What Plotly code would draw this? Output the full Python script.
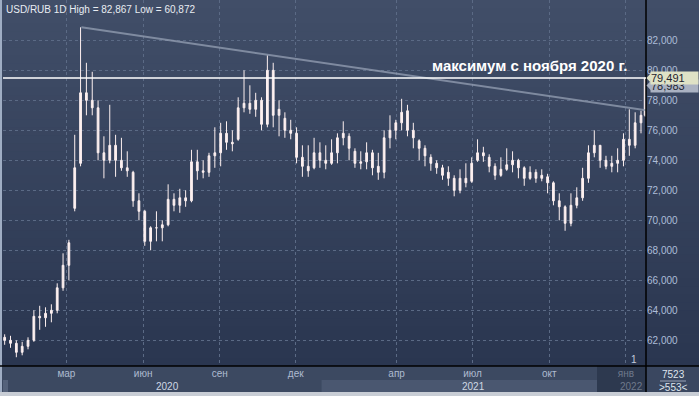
import pandas as pd
import plotly.graph_objects as go

# ---------------- data ----------------
# weekly candles (centred on Wednesdays) + the last daily candle
week_dates = list(pd.date_range("2019-12-18", periods=110, freq="7D").strftime("%Y-%m-%d")) + ["2022-01-24"]

opens = [62.2, 62.0, 61.8, 61.2, 61.6, 62.0, 63.6, 63.5, 63.8, 64.0, 65.5,
         67.0, 70.8, 73.8, 78.5, 78.0, 77.5, 74.5, 74.0, 75.0, 74.0, 73.5,
         73.2, 71.3, 70.6, 68.6, 69.5, 69.5, 69.7, 71.4, 71.0, 71.5, 71.3,
         73.9, 73.3, 73.2, 74.3, 74.5, 75.8, 75.2, 75.4, 77.5, 77.8, 77.4,
         78.0, 76.4, 80.0, 77.0, 76.8, 76.0, 75.8, 74.2, 73.6, 73.5, 74.5,
         74.0, 73.8, 74.5, 75.5, 75.6, 74.6, 73.8, 73.9, 74.5, 73.6, 73.2,
         75.5, 76.0, 76.5, 77.3, 76.0, 75.3, 74.8, 74.2, 73.8, 73.5, 73.2,
         72.8, 72.0, 72.8, 72.6, 74.0, 74.5, 74.2, 73.6, 73.0, 73.4, 73.7,
         74.0, 73.5, 72.8, 73.2, 72.8, 72.9, 72.5, 71.3, 70.9, 69.8, 71.0,
         71.5, 72.8, 74.5, 75.0, 74.0, 73.6, 73.8, 74.0, 75.4, 75.0, 76.5,
         77.0]
highs = [62.4, 62.3, 62.0, 61.9, 62.2, 64.0, 64.3, 64.2, 64.4, 65.8, 67.8,
         68.7, 75.7, 82.867, 80.5, 79.9, 78.0, 75.6, 77.7, 75.7, 75.5, 74.6,
         73.3, 71.8, 70.7, 69.6, 70.6, 70.0, 72.4, 71.8, 72.1, 72.0, 74.7,
         74.7, 74.0, 74.5, 76.2, 76.5, 76.6, 76.0, 78.2, 80.0, 79.0, 78.5,
         78.2, 81.0, 80.5, 78.0, 77.2, 76.7, 76.2, 75.0, 75.0, 75.5, 75.2,
         75.0, 75.4, 75.8, 76.6, 75.8, 74.8, 74.6, 75.2, 74.7, 74.5, 76.0,
         77.0, 76.7, 78.1, 77.7, 76.5, 75.4, 75.0, 74.4, 74.0, 73.7, 73.6,
         73.0, 73.4, 73.8, 74.2, 75.4, 74.9, 74.4, 73.8, 74.2, 74.8, 74.6,
         74.1, 73.6, 73.6, 73.4, 73.4, 73.1, 72.6, 71.8, 71.0, 71.8, 72.2,
         73.5, 75.0, 76.0, 75.0, 74.3, 74.3, 74.8, 75.8, 77.4, 77.2, 77.3,
         79.491]
lows = [61.7, 61.5, 60.872, 61.0, 61.4, 61.9, 62.7, 62.9, 63.2, 63.8, 65.3,
        66.0, 70.6, 73.6, 77.0, 77.0, 74.0, 72.8, 73.8, 72.9, 73.3, 72.9,
        70.9, 70.0, 68.3, 68.0, 68.6, 68.6, 69.6, 70.6, 70.5, 70.9, 71.2,
        72.7, 72.8, 72.9, 73.5, 73.6, 74.7, 74.6, 75.3, 77.2, 77.1, 76.9,
        76.0, 76.2, 76.2, 75.6, 75.5, 75.4, 73.8, 72.9, 72.9, 73.4, 73.5,
        73.4, 73.7, 73.8, 75.0, 74.0, 73.5, 73.4, 73.4, 73.0, 72.7, 72.8,
        74.8, 75.4, 76.0, 75.6, 74.8, 74.0, 73.6, 73.3, 73.1, 72.7, 72.3,
        71.6, 71.8, 72.2, 72.5, 73.9, 73.9, 73.2, 72.7, 72.9, 73.3, 73.2,
        72.8, 72.3, 72.7, 72.5, 72.6, 71.8, 71.0, 70.0, 69.3, 69.6, 70.8,
        71.3, 72.5, 74.2, 73.5, 73.4, 73.2, 73.2, 73.6, 74.3, 74.8, 75.8,
        76.9]
closes = [62.0, 61.8, 61.2, 61.6, 62.0, 63.6, 63.5, 63.8, 64.0, 65.5, 67.0,
          68.5, 73.5, 78.5, 78.0, 77.5, 74.5, 74.0, 75.0, 74.0, 73.5, 73.3,
          71.3, 70.6, 68.6, 69.5, 69.5, 69.7, 71.4, 71.0, 71.5, 71.3, 73.9,
          73.3, 73.2, 74.3, 74.5, 75.8, 75.2, 75.1, 77.5, 77.8, 77.4, 78.0,
          76.4, 80.0, 77.0, 77.4, 76.0, 75.8, 74.2, 73.6, 73.3, 74.5, 74.0,
          73.8, 74.5, 75.5, 75.8, 74.8, 73.8, 73.9, 74.5, 73.5, 73.2, 75.5,
          76.0, 76.5, 77.2, 76.0, 75.5, 74.8, 74.3, 73.8, 73.5, 73.0, 72.8,
          72.0, 72.8, 72.5, 73.8, 74.5, 74.3, 73.6, 73.0, 73.4, 73.7, 74.0,
          73.5, 72.8, 73.2, 72.8, 73.0, 72.5, 71.3, 70.9, 69.8, 71.0, 71.5,
          72.8, 74.5, 75.0, 74.0, 73.6, 73.8, 74.0, 75.4, 75.0, 76.5, 77.0,
          79.491]

current_price = 79.491
second_price = 78.983

trend_dates = ["2020-03-19", "2022-01-25"]
trend_values = [82.867, 77.34]

month_ticks = ["2020-03-01", "2020-06-01", "2020-09-01", "2020-12-01",
               "2021-04-01", "2021-07-01", "2021-10-01", "2022-01-01"]
month_labels = ["мар", "июн", "сен", "дек", "апр", "июл", "окт", "янв"]
price_ticks = [62, 64, 66, 68, 70, 72, 74, 76, 78, 80, 82]
year_labels = ["2020", "2021", "2022"]

x_range = ["2019-12-16", "2022-01-25"]
y_range = [60.287, 84.687]


def fmt(v):
    return f"{v:.3f}".replace(".", ",")


# ---------------- geometry helpers ----------------
W, H = 699, 396
ML, MR, MT, MB = 3, 53, 0, 30
PW, PH = W - ML - MR, H - MT - MB
FONT = "Liberation Sans, Arial, sans-serif"


def px(xp):
    return (xp - ML) / PW


def py(yp):
    return (H - MB - yp) / PH


def hexmix(c1, c2, t):
    a = [int(c1[i:i + 2], 16) for i in (1, 3, 5)]
    b = [int(c2[i:i + 2], 16) for i in (1, 3, 5)]
    return "#" + "".join(f"{round(a[k] + (b[k] - a[k]) * t):02x}" for k in range(3))


t0 = pd.Timestamp(x_range[0])
t1 = pd.Timestamp(x_range[1])


def dpx(d):
    return ML + (pd.Timestamp(d) - t0) / (t1 - t0) * PW


shapes = []
# gradient background over plot + right axis area
N = 46
for i in range(N):
    y0 = 366 * i / N
    y1 = 366 * (i + 1) / N + 0.6
    shapes.append(dict(type="rect", xref="paper", yref="paper", layer="below",
                       x0=px(0), x1=px(W), y0=py(y1), y1=py(y0), line_width=0,
                       fillcolor=hexmix("#414e68", "#2a3650", (i + 0.5) / N)))
# bottom strip
shapes.append(dict(type="rect", xref="paper", yref="paper", layer="below",
                   x0=px(0), x1=px(W), y0=py(392), y1=py(366), line_width=0, fillcolor="#3c4961"))
# 2021 year band
shapes.append(dict(type="rect", xref="paper", yref="paper", layer="below",
                   x0=px(dpx("2021-01-01")), x1=px(597), y0=py(392), y1=py(380), line_width=0,
                   fillcolor="#4a5770"))
# small scroll mark at left
shapes.append(dict(type="rect", xref="paper", yref="paper", layer="below",
                   x0=px(3), x1=px(8), y0=py(392), y1=py(380), line_width=0, fillcolor="#55627a"))
# dark overlay at the right of the time strip
shapes.append(dict(type="rect", xref="paper", yref="paper", layer="below",
                   x0=px(597), x1=px(646), y0=py(392), y1=py(366), line_width=0, fillcolor="#2d394f"))
# right bottom box
shapes.append(dict(type="rect", xref="paper", yref="paper", layer="below",
                   x0=px(646), x1=px(W), y0=py(392), y1=py(366), line_width=0, fillcolor="#3a4760"))
shapes.append(dict(type="line", xref="paper", yref="paper", x0=px(660), x1=px(686),
                   y0=py(381), y1=py(381), line=dict(color="#9aa5b8", width=1)))
# bottom light border
shapes.append(dict(type="rect", xref="paper", yref="paper",
                   x0=px(0), x1=px(W), y0=py(H), y1=py(392), line_width=0, fillcolor="#c8cdd5"))
# left light border
shapes.append(dict(type="rect", xref="paper", yref="paper",
                   x0=px(0), x1=px(2), y0=py(392), y1=py(0), line_width=0, fillcolor="#9fadc3"))
# black frame lines
shapes.append(dict(type="line", xref="paper", yref="paper", x0=px(0), x1=px(W),
                   y0=py(366), y1=py(366), line=dict(color="#000000", width=1.5)))
shapes.append(dict(type="line", xref="paper", yref="paper", x0=px(646), x1=px(646),
                   y0=py(392), y1=py(0), line=dict(color="#000000", width=1.5)))
# current price line
shapes.append(dict(type="line", xref="paper", yref="y", x0=0, x1=1,
                   y0=current_price, y1=current_price, line=dict(color="#ffffff", width=1.5)))
# tag tips
for v, c in ((second_price, "#aab2c2"), (current_price, "#dfe2c6")):
    shapes.append(dict(type="path", xref="paper", yref="y", line_width=0, fillcolor=c,
                       path=f"M {px(646.5)},{v} L {px(651)},{v + 0.33} L {px(651)},{v - 0.33} Z"))

annotations = [
    dict(text=f"USD/RUB 1D High = {fmt(max(highs))} Low = {fmt(min(lows))}",
         xref="paper", yref="paper", x=px(4), y=py(9), xanchor="left", yanchor="middle",
         showarrow=False, font=dict(family=FONT, size=10, color="#e8ecf2")),
    dict(text="<b>максимум с ноября 2020 г.</b>", xref="paper", yref="paper",
         x=px(629), y=py(66), xanchor="right", yanchor="middle", showarrow=False,
         font=dict(family=FONT, size=15, color="#ffffff")),
    dict(text=fmt(second_price), xref="paper", yref="y", x=px(650), y=second_price,
         xanchor="left", yanchor="middle", showarrow=False, bgcolor="#aab2c2",
         width=47, align="left", borderpad=0,
         font=dict(family=FONT, size=11, color="#1e2430")),
    dict(text=fmt(current_price), xref="paper", yref="y", x=px(650), y=current_price,
         xanchor="left", yanchor="middle", showarrow=False, bgcolor="#dfe2c6",
         width=47, align="left", borderpad=0,
         font=dict(family=FONT, size=11, color="#1e2430")),
    dict(text="1", xref="paper", yref="paper", x=px(634), y=py(359), showarrow=False,
         xanchor="center", yanchor="middle", font=dict(family=FONT, size=10, color="#c4cddc")),
    dict(text=year_labels[0], xref="paper", yref="paper", x=px(167), y=py(386.5),
         showarrow=False, xanchor="center", yanchor="middle",
         font=dict(family=FONT, size=10, color="#cfd7e4")),
    dict(text=year_labels[1], xref="paper", yref="paper", x=px(474), y=py(386.5),
         showarrow=False, xanchor="center", yanchor="middle",
         font=dict(family=FONT, size=10, color="#cfd7e4")),
    dict(text=year_labels[2], xref="paper", yref="paper", x=px(645), y=py(386.5),
         showarrow=False, xanchor="right", yanchor="middle",
         font=dict(family=FONT, size=10, color="#6d788b")),
    dict(text="7523", xref="paper", yref="paper", x=px(673), y=py(374.5),
         showarrow=False, xanchor="center", yanchor="middle",
         font=dict(family=FONT, size=10, color="#dfe5ee")),
    dict(text="&gt;553&lt;", xref="paper", yref="paper", x=px(673), y=py(387.5),
         showarrow=False, xanchor="center", yanchor="middle",
         font=dict(family=FONT, size=10, color="#dfe5ee")),
]

tick_text = [f'<span style="color:#6d788b">{t}</span>' if t == "янв" else t for t in month_labels]

fig = go.Figure()
fig.add_trace(go.Scatter(x=trend_dates, y=trend_values, mode="lines",
                         line=dict(color="rgba(150,160,180,0.75)", width=2),
                         hoverinfo="skip", showlegend=False))
fig.add_trace(go.Candlestick(
    x=week_dates, open=opens, high=highs, low=lows, close=closes,
    increasing=dict(fillcolor="#fdf0f0", line=dict(color="#fdf0f0", width=1)),
    decreasing=dict(fillcolor="#fdf0f0", line=dict(color="#fdf0f0", width=1)),
    whiskerwidth=0, showlegend=False, hoverinfo="skip"))

fig.update_layout(
    width=W, height=H,
    margin=dict(l=ML, r=MR, t=MT, b=MB, pad=0),
    paper_bgcolor="#3c4961", plot_bgcolor="#34405a",
    showlegend=False, hovermode=False, boxgap=0.4,
    shapes=shapes, annotations=annotations,
    font=dict(family=FONT, size=10, color="#b4c1d6"),
    xaxis=dict(type="date", range=x_range, rangeslider=dict(visible=False),
               tickvals=month_ticks, ticktext=tick_text, ticks="",
               tickfont=dict(family=FONT, size=10, color="#aebbd0"),
               showgrid=True, gridcolor="#5b6a85", griddash="dot", gridwidth=1,
               showline=False, zeroline=False, fixedrange=True),
    yaxis=dict(side="right", range=y_range, tickvals=price_ticks,
               ticktext=[fmt(v) for v in price_ticks], ticks="",
               tickfont=dict(family=FONT, size=10, color="#adbdd8"),
               showgrid=True, gridcolor="#5b6a85", griddash="dot", gridwidth=1,
               showline=False, zeroline=False, fixedrange=True),
)

fig.write_html("out.html", include_plotlyjs=True, config={"displayModeBar": False},
               post_script="document.body.style.margin='0';document.body.style.overflow='hidden';")
